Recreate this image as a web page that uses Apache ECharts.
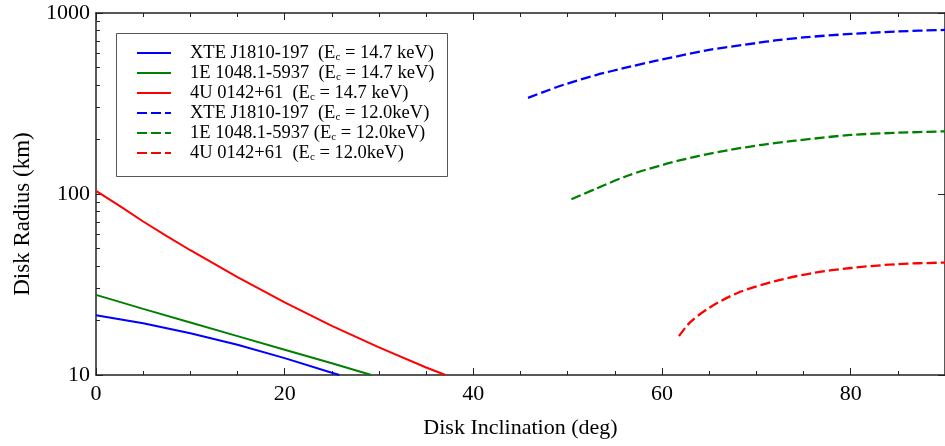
<!DOCTYPE html>
<html>
<head>
<meta charset="utf-8">
<script src="https://cdn.jsdelivr.net/npm/echarts@6/dist/echarts.min.js"></script>
<style>html,body{margin:0;padding:0;background:#fff}#c{width:945px;height:446px}</style>
</head>
<body>
<div id="c"></div>
<script>
// ---- data ----
const xTicks = [0, 20, 40, 60, 80];
const yTicks = [10, 100, 1000];
const yMinorTicks = [20,30,40,50,60,70,80,90,200,300,400,500,600,700,800,900];

const xteSolidI = [0, 5, 10, 15, 20, 25, 25.8];
const xteSolidR = [21.4, 19.3, 17.0, 14.7, 12.4, 10.3, 10];
const e1048SolidI = [0, 5, 10, 15, 20, 25, 29.2];
const e1048SolidR = [27.7, 23.2, 19.5, 16.4, 13.8, 11.6, 10];
const u0142SolidI = [0, 2.5, 5, 7.5, 10, 12.5, 15, 20, 25, 30, 35, 37.05];
const u0142SolidR = [104, 86, 70.5, 58.5, 48.9, 41.2, 34.7, 25.2, 18.7, 14.2, 11.0, 10];

const xteDashI = [45.8, 47.8, 49.5, 53, 56.6, 59.4, 65, 70, 72, 75, 80, 85, 90];
const xteDashR = [340, 372, 400, 454, 505, 545, 625, 682, 705, 733, 766, 791, 806];
const e1048DashI = [50.4, 53, 56.5, 60.1, 63.6, 67.1, 70.6, 74.1, 80, 85, 90];
const e1048DashR = [93.5, 107, 127, 145, 161, 175, 187, 197, 212, 218, 222];
const u0142DashI = [61.8, 63, 65, 68, 72, 76, 80, 85, 90];
const u0142DashR = [16.4, 19.6, 23.5, 28.4, 33.0, 36.6, 39.0, 41.0, 41.8];

const names = [
  'XTE J1810-197 14.7', '1E 1048.1-5937 14.7', '4U 0142+61 14.7',
  'XTE J1810-197 12.0', '1E 1048.1-5937 12.0', '4U 0142+61 12.0'
];
const legendLabels = {
  'XTE J1810-197 14.7': 'XTE J1810-197  (E{s|c} = 14.7 keV)',
  '1E 1048.1-5937 14.7': '1E 1048.1-5937  (E{s|c} = 14.7 keV)',
  '4U 0142+61 14.7': '4U 0142+61  (E{s|c} = 14.7 keV)',
  'XTE J1810-197 12.0': 'XTE J1810-197  (E{s|c} = 12.0keV)',
  '1E 1048.1-5937 12.0': '1E 1048.1-5937 (E{s|c} = 12.0keV)',
  '4U 0142+61 12.0': '4U 0142+61  (E{s|c} = 12.0keV)'
};

const zip = (a, b) => a.map((v, i) => [v, b[i]]);
const FONT = 'Liberation Serif';
const BLUE = '#0000ff', GREEN = '#008000', RED = '#ff0000';
const DASH = [10, 4];

function line(name, xs, ys, color, dashed) {
  return {
    name, type: 'line', data: zip(xs, ys), symbol: 'none',
    smooth: dashed ? 0.3 : false,
    xAxisIndex: 0, yAxisIndex: 0,
    lineStyle: { color, width: dashed ? 2.3 : 2, type: dashed ? DASH : 'solid' },
    itemStyle: { color }
  };
}

const axisLine = { show: true, lineStyle: { color: '#222', width: 1.5 } };
const baseX = {
  type: 'value', min: 0, max: 90, interval: 20,
  axisLine, splitLine: { show: false },
  axisTick: { show: true, inside: true, length: 7, lineStyle: { color: '#222' } },
  minorTick: { show: true, splitNumber: 4, length: 4, lineStyle: { color: '#222' } },
  minorSplitLine: { show: false }
};
const baseY = {
  type: 'log', logBase: 10, min: 10, max: 1000,
  splitLine: { show: false }, minorSplitLine: { show: false }
};

const chart = echarts.init(document.getElementById('c'), null, { renderer: 'canvas' });
chart.setOption({
  animation: false,
  backgroundColor: '#fff',
  grid: { left: 96, top: 13, right: -6, bottom: 71, containLabel: false },
  xAxis: [
    Object.assign({}, baseX, {
      position: 'bottom',
      name: 'Disk Inclination (deg)', nameLocation: 'middle', nameGap: 42,
      nameTextStyle: { fontFamily: FONT, fontSize: 22, color: '#000' },
      axisLabel: { fontFamily: FONT, fontSize: 22, color: '#000', margin: 8,
        customValues: xTicks }
    }),
    Object.assign({}, baseX, { position: 'top', axisLabel: { show: false } })
  ],
  yAxis: [
    Object.assign({}, baseY, {
      position: 'left', axisLine,
      name: 'Disk Radius (km)', nameLocation: 'middle', nameGap: 62,
      nameTextStyle: { fontFamily: FONT, fontSize: 23, color: '#000', padding: [0, 40, 0, 0] },
      axisTick: { show: true, inside: true, length: 7, customValues: yTicks, lineStyle: { color: '#222' } },
      axisLabel: { fontFamily: FONT, fontSize: 22, color: '#000', margin: 6, customValues: yTicks,
        formatter: v => String(Math.round(v)) },
      minorTick: { show: false }
    }),
    Object.assign({}, baseY, {
      position: 'left', axisLine: { show: false },
      axisTick: { show: true, inside: true, length: 4, customValues: yMinorTicks, lineStyle: { color: '#222' } },
      axisLabel: { show: false }, minorTick: { show: false }
    }),
    Object.assign({}, baseY, {
      position: 'right', axisLine,
      axisTick: { show: true, inside: true, length: 7, customValues: yTicks, lineStyle: { color: '#222' } },
      axisLabel: { show: false }, minorTick: { show: false }
    })
  ],
  graphic: [{
    type: 'rect', z: 3, silent: true,
    shape: { x: 116.5, y: 33.5, width: 331, height: 143 },
    style: { fill: '#fff', stroke: '#555', lineWidth: 1 }
  }],
  legend: {
    z: 5, orient: 'vertical', left: 136, top: 43, padding: 0,
    itemWidth: 34, itemHeight: 14, itemGap: 0,
    data: names,
    itemStyle: { opacity: 0 },
    formatter: n => legendLabels[n],
    textStyle: {
      fontFamily: FONT, fontSize: 18.5, color: '#000', lineHeight: 20,
      padding: [0, 0, 0, 14],
      rich: { s: { fontFamily: FONT, fontSize: 11, lineHeight: 11, verticalAlign: 'bottom', color: '#000' } }
    }
  },
  series: [
    line(names[0], xteSolidI, xteSolidR, BLUE, false),
    line(names[1], e1048SolidI, e1048SolidR, GREEN, false),
    line(names[2], u0142SolidI, u0142SolidR, RED, false),
    line(names[3], xteDashI, xteDashR, BLUE, true),
    line(names[4], e1048DashI, e1048DashR, GREEN, true),
    line(names[5], u0142DashI, u0142DashR, RED, true)
  ]
});
</script>
</body>
</html>
